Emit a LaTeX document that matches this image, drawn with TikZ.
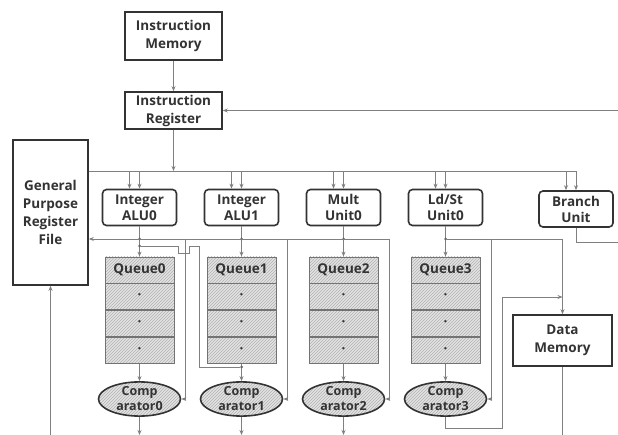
\documentclass[tikz,border=0pt]{standalone}
\usepackage{fontspec}
\setmainfont{Open Sans}
\usetikzlibrary{positioning,shapes.geometric,patterns,arrows.meta}

\begin{document}
\begin{tikzpicture}[x=1pt, y=-1pt,
    % box styles
    blockbox/.style={draw=black!80, line width=1.6pt, fill=white, align=center, inner sep=0pt,
        font=\bfseries\fontsize{13.5}{18}\selectfont, text=black!80},
    unitbox/.style={blockbox, rounded corners=4pt, minimum width=74pt, minimum height=36pt,
        font=\bfseries\fontsize{13.5}{16}\selectfont},
    queuecell/.style={draw=black!55, line width=0.8pt, preaction={fill=gray!22},
        pattern=north east lines, pattern color=gray!60, minimum width=69pt, minimum height=26pt,
        inner sep=0pt, font=\bfseries\fontsize{13.5}{15}\selectfont, text=black!80},
    compnode/.style={ellipse, draw=black!80, line width=1.6pt, preaction={fill=gray!22},
        pattern=north east lines, pattern color=gray!60, minimum width=82pt, minimum height=34pt,
        inner sep=0pt, align=center, font=\bfseries\fontsize{12.5}{15}\selectfont, text=black!80},
    % connector styles
    wire/.style={draw=black!50, line width=0.9pt},
    arr/.style={wire, -{Stealth[length=5pt,width=4pt]}},
    junc/.style={circle, fill=black!60, inner sep=0pt, minimum size=3pt}
]
\useasboundingbox (0,0) rectangle (618,435);

% --- FETCH ---
\node[blockbox, minimum width=97pt, minimum height=48pt] (imem) at (173.5,36) {Instruction\\Memory};
\node[blockbox, minimum width=97pt, minimum height=37pt] (ireg) at (173.5,110.5) {Instruction\\Register};
\node[blockbox, minimum width=75pt, minimum height=145pt] (gprf) at (50.5,212.5) {General\\Purpose\\Register\\File};
\node[blockbox, minimum width=99pt, minimum height=51pt] (dmem) at (562.5,340.5) {Data\\Memory};

% --- UNITS ---
\node[unitbox] (alu0) at (139.5,207.5) {Integer\\ALU0};
\node[unitbox] (alu1) at (241.5,207.5) {Integer\\ALU1};
\node[unitbox] (mult0) at (343.5,207.5) {Mult\\Unit0};
\node[unitbox] (ldst0) at (445.5,207.5) {Ld/St\\Unit0};
\node[unitbox] (branch) at (576,209) {Branch\\Unit};

% --- QUEUES AND COMPARATORS ---
\foreach \i/\x in {0/139.5,1/241.5,2/343.5,3/445.5} {
  \node[queuecell] (q\i) at (\x,270) {Queue\i};
  \node[queuecell, below=0pt of q\i] (q\i-a) {·};
  \node[queuecell, below=0pt of q\i-a] (q\i-b) {·};
  \node[queuecell, below=0pt of q\i-b] (q\i-c) {·};
  \node[compnode] (c\i) at (\x,399) {Comp\\arator\i};
  \draw[arr] (q\i-c.south) -- (c\i.north);
}

% --- CONNECTORS ---
\coordinate (fbin) at (618,110.5);
\coordinate (busj) at (173.5,171);
\coordinate (rbend) at (389.5,239);
\coordinate (bottom) at (0,435);
\coordinate (brout) at (618,242);
\coordinate (c3turn) at (502,428);
\coordinate (c3up) at (502,297);

\draw[arr] (imem.south) -- (ireg.north);
\draw[arr] (fbin) -- (ireg.east);
\draw[arr] (ireg.south) -- (busj);
\draw[arr] (gprf.east |- busj) -- (busj -| branch.north) -- (branch.north);
\foreach \u in {alu0,alu1,mult0,ldst0,branch}
  \draw[arr] ([xshift=-10pt]\u.north |- busj) -- ([xshift=-10pt]\u.north);
\foreach \u in {alu0,alu1,mult0,ldst0}
  \draw[arr] (\u.north |- busj) -- (\u.north);

\foreach \u/\i in {alu0/0,alu1/1,mult0/2,ldst0/3} {
  \draw[arr] (\u.south) -- (q\i.north);
  \node[junc] (j\i) at (\u.south |- rbend) {};
}

% result bus
\draw[arr] (rbend) -- (gprf.east |- rbend);
\draw[arr] (rbend) -- (rbend |- c2.east) -- (c2.east);
\foreach \i in {0,1}
  \draw[arr] ([xshift=46pt]q\i.north |- rbend) -- ([xshift=46pt]q\i.north |- c\i.east) -- (c\i.east);

% load/store path
\draw[arr] (j3) -- (rbend -| dmem.north) -- (dmem.north);
\draw[arr] ([xshift=46pt]q3.north |- rbend) -- ([xshift=46pt]q3.north |- c3.east) -- (c3.east);
\draw[arr] (c3.south) -- (c3.south |- c3turn) -- (c3turn) -- (c3up) -- (c3up -| dmem.north);
\draw[wire] (dmem.south) -- (dmem.south |- bottom);

% ALU0 to Comparator1
\node[junc] (j0b) at (139.5,246) {};
\node[junc] (j1c) at (241.5,367) {};
\draw[wire] (j0b) -- (178,246) -- (178,253) -- (189,253) -- (189,246) -- (199,246) -- (199,367) -- (j1c);

% outputs
\foreach \i in {0,1,2}
  \draw[arr] (c\i.south) -- (c\i.south |- bottom);
\draw[arr] (gprf.south |- bottom) -- (gprf.south);
\draw[wire] (branch.south) |- (brout);

\end{tikzpicture}
\end{document}
